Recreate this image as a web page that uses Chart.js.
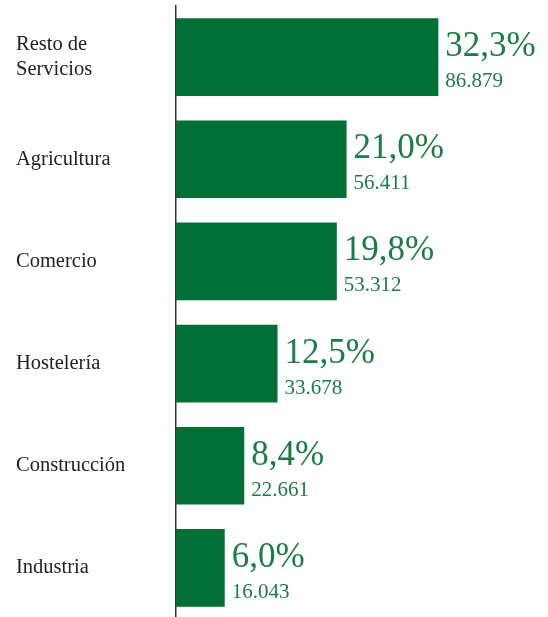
<!DOCTYPE html>
<html>
<head>
<meta charset="utf-8">
<script src="https://cdn.jsdelivr.net/npm/chart.js@4/dist/chart.umd.min.js"></script>
<style>
html,body{margin:0;padding:0;background:#fff;overflow:hidden;}
#wrap{width:548px;height:625px;}
</style>
</head>
<body>
<div id="wrap"><canvas id="c" width="548" height="625"></canvas></div>
<script>
const categories = [["Resto de", "Servicios"], "Agricultura", "Comercio", "Hostelería", "Construcción", "Industria"];
const percentages = [32.3, 21.0, 19.8, 12.5, 8.4, 6.0];
const workers = [86879, 56411, 53312, 33678, 22661, 16043];

const BAR_COLOR = '#026f36';
const TEXT_GREEN = '#1c7c47';
const SERIF = "'Liberation Serif', 'Times New Roman', serif";

Chart.defaults.font.family = SERIF;

function fmtPct(v) { return v.toFixed(1).replace('.', ',') + '%'; }
function fmtInt(v) { return String(v).replace(/\B(?=(\d{3})+(?!\d))/g, '.'); }

const barLabels = {
  id: 'barLabels',
  afterDatasetsDraw(chart) {
    const ctx = chart.ctx;
    const meta = chart.getDatasetMeta(0);
    ctx.save();
    ctx.fillStyle = TEXT_GREEN;
    ctx.textAlign = 'left';
    ctx.textBaseline = 'alphabetic';
    meta.data.forEach((bar, i) => {
      const x = bar.x + 7;
      ctx.font = '35px ' + SERIF;
      ctx.fillText(fmtPct(percentages[i]), x, bar.y - 1);
      ctx.font = '21px ' + SERIF;
      ctx.fillText(fmtInt(workers[i]), x, bar.y + 30);
    });
    ctx.restore();
  }
};

new Chart(document.getElementById('c'), {
  type: 'bar',
  data: {
    labels: categories,
    datasets: [{
      data: percentages,
      backgroundColor: BAR_COLOR,
      borderWidth: 0,
      categoryPercentage: 1,
      barPercentage: 0.76
    }]
  },
  options: {
    indexAxis: 'y',
    responsive: false,
    animation: false,
    devicePixelRatio: 1,
    layout: { padding: { left: 16, top: 6, bottom: 6, right: 0 } },
    plugins: { legend: { display: false }, tooltip: { enabled: false } },
    scales: {
      x: { display: false, min: 0, max: 45.8 },
      y: {
        afterFit(scale) { scale.width = 160; scale.paddingTop = 0; scale.paddingBottom = 0; },
        grid: { display: false, drawTicks: false },
        border: { display: true, color: '#333', width: 1.5 },
        ticks: {
          crossAlign: 'far',
          padding: 0,
          color: '#222',
          font: { family: SERIF, size: 20.5, lineHeight: 1.2 }
        }
      }
    }
  },
  plugins: [barLabels]
});
</script>
</body>
</html>
